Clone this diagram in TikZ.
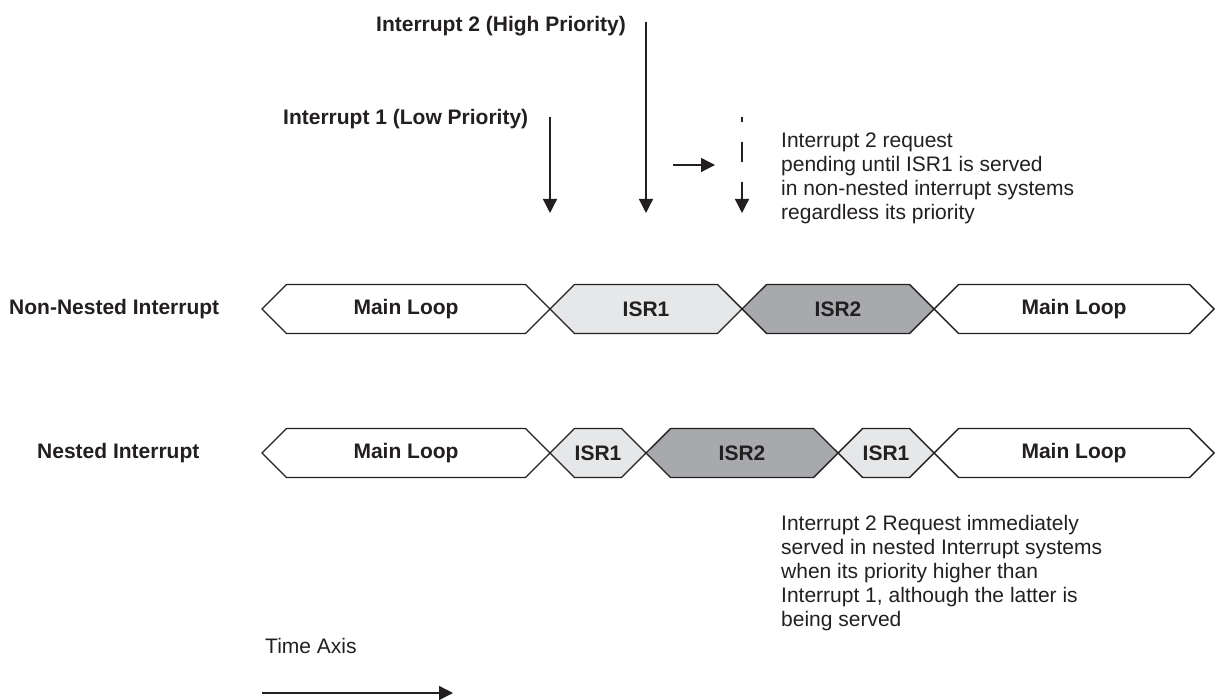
\documentclass[tikz,border=0pt]{standalone}
\usepackage{fontspec}
\setmainfont{Liberation Sans}
\usetikzlibrary{arrows.meta, positioning, shapes.symbols}
\definecolor{inkblack}{HTML}{231F20}
\definecolor{isrlight}{HTML}{E6E7E8}
\definecolor{isrdark}{HTML}{A7A9AC}

\begin{document}
\begin{tikzpicture}[
  x=1pt, y=-1pt,
  >={Triangle[length=14pt, width=14pt]},
  seg/.style={
    shape=signal, signal to=west and east, signal pointer angle=90,
    draw=inkblack, line width=1.4pt, fill=#1, line join=miter,
    minimum height=49pt, inner sep=0pt, outer sep=0pt,
    font=\fontsize{21}{24}\selectfont\bfseries, text=inkblack
  },
  rowlabel/.style={
    font=\fontsize{21}{24}\selectfont\bfseries, text=inkblack,
    anchor=west, inner sep=0pt
  },
  note/.style={
    font=\fontsize{21}{24}\selectfont, text=inkblack,
    align=left, anchor=north west, inner sep=0pt
  },
  arr/.style={->, line width=1.3pt, inkblack},
]

\useasboundingbox (0,0) rectangle (1215,700);

% ============================================================
% Interrupt requests (top)
% ============================================================
\node[rowlabel] (irq2-label) at (376,26) {Interrupt 2 (High Priority)};
\node[rowlabel] (irq1-label) at (283,119) {Interrupt 1 (Low Priority)};

\coordinate (irq1-top)  at (550,117);
\coordinate (irq1-tip)  at (550,213);
\coordinate (irq2-top)  at (646,22);
\coordinate (irq2-tip)  at (646,213);
\coordinate (wait-top)  at (742,117);
\coordinate (wait-tip)  at (742,213);
\coordinate (hint-from) at (673,165);
\coordinate (hint-to)   at (715,165);

\draw[arr] (irq1-top) -- (irq1-tip);
\draw[arr] (irq2-top) -- (irq2-tip);
\draw[arr, dash pattern=on 20pt off 20pt, dash phase=15pt] (wait-top) -- (wait-tip);
\draw[arr] (hint-from) -- (hint-to);

\node[note] (pending-note) at (781,133)
  {Interrupt 2 request\\
   pending until ISR1 is served\\
   in non-nested interrupt systems\\
   regardless its priority};

% ============================================================
% Non-nested interrupt row
% ============================================================
\node[rowlabel] (nonnested-label) at (9,309) {Non-Nested Interrupt};

\node[seg=white, minimum width=288pt] (ml1a) at (406,309) {Main Loop};
\node[seg=isrlight, minimum width=192pt, right=0pt of ml1a] (isr1a) {ISR1};
\node[seg=isrdark, minimum width=192pt, right=0pt of isr1a] (isr2a) {ISR2};
\node[seg=white, minimum width=280pt, right=0pt of isr2a] (ml2a) {Main Loop};

% ============================================================
% Nested interrupt row
% ============================================================
\node[rowlabel] (nested-label) at (37,453) {Nested Interrupt};

\node[seg=white, minimum width=288pt] (ml1b) at (406,453) {Main Loop};
\node[seg=isrlight, minimum width=96pt, right=0pt of ml1b] (isr1b) {ISR1};
\node[seg=isrdark, minimum width=192pt, right=0pt of isr1b] (isr2b) {ISR2};
\node[seg=isrlight, minimum width=96pt, right=0pt of isr2b] (isr1c) {ISR1};
\node[seg=white, minimum width=280pt, right=0pt of isr1c] (ml2b) {Main Loop};

\node[note] (served-note) at (781,515)
  {Interrupt 2 Request immediately\\
   served in nested Interrupt systems\\
   when its priority higher than\\
   Interrupt 1, although the latter is\\
   being served};

% ============================================================
% Time axis
% ============================================================
\node[note, anchor=west] (time-label) at (265,646) {Time Axis};
\coordinate (time-start) at (262,693);
\coordinate (time-end)   at (453,693);
\draw[arr] (time-start) -- (time-end);

\end{tikzpicture}
\end{document}
